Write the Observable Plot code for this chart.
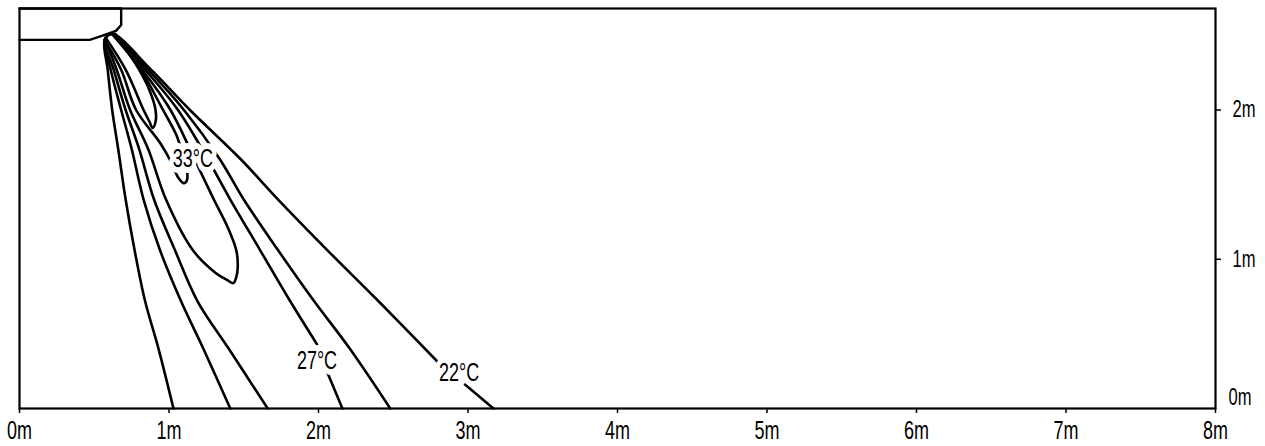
<!DOCTYPE html>
<html><head><meta charset="utf-8">
<script src="https://cdn.jsdelivr.net/npm/d3@7"></script>
<script src="https://cdn.jsdelivr.net/npm/@observablehq/plot@0.6"></script>
<style>
html,body{margin:0;padding:0;background:#fff;}
</style>
</head><body><div id="chart"></div>
<script>
// Axis ticks (metres)
const xTicks = [0, 1, 2, 3, 4, 5, 6, 7, 8];
const xTickLabels = ["0m", "1m", "2m", "3m", "4m", "5m", "6m", "7m", "8m"];
const yTicks = [1, 2];
const yTickLabels = ["1m", "2m"];
const yZeroLabel = ["0m"];
const yZero = [0];

// Air-conditioner unit outline (metres)
const unitX = [0, 0.68, 0.68, 0.645, 0.56, 0.50, 0.47, 0];
const unitY = [2.68, 2.68, 2.57, 2.53, 2.50, 2.48, 2.47, 2.47];

// Isotherms, metres (null = gap where a label sits)
const c22X = [1.03, 0.93, 0.84, 0.77, 0.71, 0.66, 0.62, 0.59, 0.57, 0.62, 0.88, 1.14, 1.48, 1.73, 2.06, 2.40, 2.80, null, 2.98, 3.17];
const c22Y = [0, 0.40, 0.72, 1.06, 1.40, 1.74, 2.00, 2.27, 2.47, 2.51, 2.27, 2.00, 1.67, 1.40, 1.06, 0.72, 0.31, null, 0.16, 0];

const c25X = [1.41, 1.23, 1.08, 0.94, 0.83, 0.75, 0.68, 0.61, 0.57, 0.62, 0.86, 1.10, 1.34, 1.50, 1.73, 1.97, 2.21, 2.48];
const c25Y = [0, 0.40, 0.72, 1.06, 1.40, 1.74, 2.00, 2.27, 2.47, 2.51, 2.27, 2.00, 1.67, 1.40, 1.06, 0.72, 0.40, 0];

const c27X = [1.66, 1.40, 1.19, 1.04, 0.90, 0.80, 0.71, 0.63, 0.57, 0.62, 0.84, 1.06, 1.26, 1.41, 1.61, 1.81, 1.99, null, 2.06, 2.16];
const c27Y = [0, 0.40, 0.72, 1.06, 1.40, 1.74, 2.00, 2.27, 2.47, 2.51, 2.27, 2.00, 1.67, 1.40, 1.06, 0.72, 0.43, null, 0.24, 0];

const c30X = [0.57, 0.65, 0.74, 0.86, 0.98, 1.16, 1.31, 1.39, 1.43, 1.45, 1.46, 1.45, 1.39, 1.30, 1.19, 1.01, 0.82, 0.62];
const c30Y = [2.47, 2.27, 2.00, 1.74, 1.40, 1.06, 0.91, 0.86, 0.84, 0.88, 0.95, 1.06, 1.22, 1.40, 1.63, 2.00, 2.27, 2.51];

const c33X = [0.57, 0.68, 0.78, 0.94, 1.02, 1.06, 1.10, 1.12, 1.12, 1.10, 1.05, 0.96, 0.81, 0.62];
const c33Y = [2.47, 2.27, 2.00, 1.78, 1.64, 1.55, 1.51, 1.53, 1.60, 1.67, 1.83, 2.00, 2.27, 2.51];

const c36X = [0.58, 0.71, 0.83, 0.87, 0.89, 0.91, 0.91, 0.87, 0.80, 0.64];
const c36Y = [2.48, 2.27, 2.00, 1.92, 1.88, 1.92, 2.00, 2.13, 2.27, 2.51];

// Temperature labels
const tempLabels = ["33°C", "27°C", "22°C"];
const tempLabelX = [1.16, 1.99, 2.94];
const tempLabelY = [1.67, 0.32, 0.24];

const contours = [
  ["22", c22X, c22Y], ["25", c25X, c25Y], ["27", c27X, c27Y],
  ["30", c30X, c30Y], ["33", c33X, c33Y], ["36", c36X, c36Y]
];
const lineRows = contours.flatMap(([id, xs, ys]) => xs.map((x, i) => ({id, x, y: ys[i]})));
const unitRows = unitX.map((x, i) => ({x, y: unitY[i]}));
const labelRows = tempLabels.map((t, i) => ({t, x: tempLabelX[i], y: tempLabelY[i]}));

const font = "'Liberation Sans', Arial, sans-serif";

const chart = Plot.plot({
  width: 1265,
  height: 446,
  marginLeft: 19,
  marginRight: 50,
  marginTop: 8,
  marginBottom: 38,
  style: {fontFamily: font, background: "white", color: "black"},
  x: {domain: [0, 8]},
  y: {domain: [0, 2.68]},
  marks: [
    Plot.line(lineRows, {x: "x", y: "y", z: "id", curve: "catmull-rom", stroke: "black", strokeWidth: 2.6}),
    Plot.line(unitRows, {x: "x", y: "y", stroke: "black", strokeWidth: 2.4}),
    Plot.text(labelRows, {x: "x", y: "y", text: "t", fontSize: 25, fill: "black", stroke: "white", strokeWidth: 12, strokeLinejoin: "round", paintOrder: "stroke"}),
    Plot.frame({stroke: "black", strokeWidth: 2.2}),
    Plot.axisX(xTicks, {tickSize: 5, tickPadding: 8, fontSize: 25, tickFormat: (d, i) => xTickLabels[i], label: null, strokeWidth: 1.5}),
    Plot.axisY(yTicks, {anchor: "right", tickSize: 5, tickPadding: 12, fontSize: 23, tickFormat: (d, i) => yTickLabels[i], label: null, strokeWidth: 1.5}),
    Plot.text(yZero, {x: 8, y: d => d, text: (d, i) => yZeroLabel[i], textAnchor: "start", dx: 13, dy: -11, fontSize: 23})
  ]
});
document.getElementById("chart").appendChild(chart);
// condensed lettering like the original (Helvetica Condensed look)
chart.querySelectorAll("text").forEach(t => {
  const L = t.getComputedTextLength();
  if (L > 0) {
    t.setAttribute("textLength", (L * 0.72).toFixed(1));
    t.setAttribute("lengthAdjust", "spacingAndGlyphs");
  }
});
</script>
</body></html>
